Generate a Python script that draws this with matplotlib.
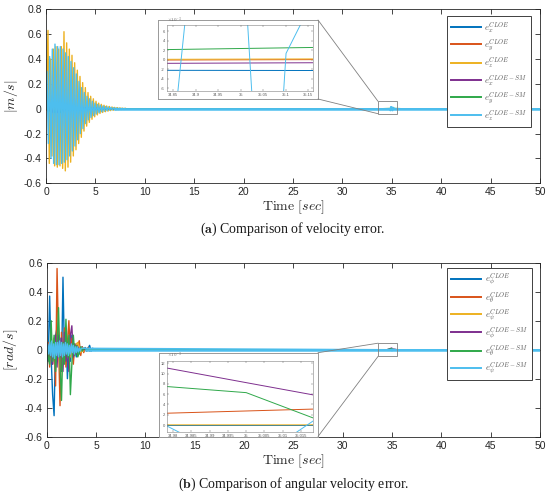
import numpy as np
import matplotlib
matplotlib.use("Agg")
import matplotlib.pyplot as plt
from matplotlib.patches import Rectangle, ConnectionPatch
from matplotlib.ticker import FuncFormatter

plt.rcParams['mathtext.fontset'] = 'cm'
plt.rcParams['axes.unicode_minus'] = False
plt.rcParams['font.family'] = ['Liberation Sans', 'DejaVu Sans']

# ---------------- colours / labels ----------------
colors = ['#0072BD', '#D95319', '#EDB120', '#7E2F8E', '#2FA84A', '#4DBEEE']
vel_labels = [r'$e_x^{CLOE}$', r'$e_y^{CLOE}$', r'$e_z^{CLOE}$',
              r'$e_x^{CLOE-SM}$', r'$e_y^{CLOE-SM}$', r'$e_z^{CLOE-SM}$']
ang_labels = [r'$e_\phi^{CLOE}$', r'$e_\theta^{CLOE}$', r'$e_\psi^{CLOE}$',
              r'$e_\phi^{CLOE-SM}$', r'$e_\theta^{CLOE-SM}$', r'$e_\psi^{CLOE-SM}$']

# ---------------- (a) velocity error data ----------------
vel_peak_step = 0.27
vel_z_cloe_pos = [0.63, 0.40, 0.48, 0.50, 0.48, 0.50, 0.62, 0.53, 0.48, 0.43, 0.37, 0.31,
                  0.26, 0.21, 0.17, 0.13, 0.10, 0.08, 0.06, 0.045, 0.035, 0.028, 0.022,
                  0.018, 0.014, 0.011, 0.009, 0.007, 0.005, 0.004]
vel_z_cloe_neg = [-0.44, -0.38, -0.46, -0.47, -0.46, -0.48, -0.50, -0.47, -0.43, -0.38,
                  -0.33, -0.28, -0.23, -0.18, -0.14, -0.11, -0.085, -0.065, -0.05, -0.038,
                  -0.03, -0.024, -0.019, -0.015, -0.012, -0.009, -0.007, -0.006, -0.005, -0.004]
vel_z_sm_pos = [0.30, 0.42, 0.48, 0.52, 0.50, 0.50, 0.48, 0.45, 0.42, 0.38, 0.33, 0.28,
                0.22, 0.17, 0.13, 0.10, 0.08, 0.06, 0.045, 0.035, 0.028, 0.022, 0.018,
                0.014, 0.011, 0.009, 0.007, 0.005, 0.004, 0.003]
vel_z_sm_neg = [-0.28, -0.40, -0.44, -0.45, -0.45, -0.44, -0.43, -0.41, -0.38, -0.34,
                -0.30, -0.25, -0.20, -0.16, -0.12, -0.09, -0.07, -0.055, -0.042, -0.032,
                -0.025, -0.02, -0.016, -0.012, -0.01, -0.008, -0.006, -0.005, -0.004, -0.003]
vel_small_t = [0.0, 0.3, 0.6, 0.9, 1.2, 1.5, 1.8, 2.1, 2.4, 2.7, 3.0, 3.3, 3.6, 3.9, 4.2,
               4.5, 4.8, 5.1, 5.4, 5.7, 6.0]
vel_x_cloe = [0, 0.03, -0.04, 0.05, -0.04, 0.04, -0.03, 0.03, -0.02, 0.02, -0.02, 0.015,
              -0.01, 0.01, -0.01, 0.008, -0.006, 0.005, -0.004, 0.003, 0]
vel_y_cloe = [0, -0.03, 0.04, -0.04, 0.05, -0.04, 0.03, -0.03, 0.02, -0.02, 0.015, -0.01,
              0.01, -0.01, 0.008, -0.006, 0.005, -0.004, 0.003, -0.002, 0]
vel_x_sm = [0, 0.02, -0.03, 0.04, -0.03, 0.03, -0.02, 0.02, -0.02, 0.015, -0.01, 0.01,
            -0.01, 0.008, -0.006, 0.005, -0.004, 0.003, -0.002, 0.002, 0]
vel_y_sm = [0, -0.02, 0.03, -0.03, 0.04, -0.03, 0.02, -0.02, 0.02, -0.015, 0.01, -0.01,
            0.008, -0.006, 0.005, -0.004, 0.003, -0.002, 0.002, -0.001, 0]
vel_tail_t = [34.0, 34.8, 35.2, 36.0]
vel_tail = {
    'x_cloe': [0, -2.25e-3, -2.3e-3, 0],
    'y_cloe': [0, -0.1e-3, 0.0, 0],
    'z_cloe': [0, 0.05e-3, 0.15e-3, 0],
    'x_sm':   [0, -0.8e-3, -0.65e-3, 0],
    'y_sm':   [0, 2.05e-3, 2.6e-3, 0],
}
vel_end_t = [50.0]
vel_end = [0.0]
vel_z_sm_tail_t = [34.0, 34.8, 34.85, 34.885, 35.01, 35.03, 35.06, 35.09, 35.101, 35.15, 35.3, 50.0]
vel_z_sm_tail = [0, 0, -0.016, 0.016, 0.016, -0.015, -0.012, -0.015, 0.0013, 0.0105, 0, 0]
vel_band_t = [7.0, 50.0]
vel_band = [0.0, 0.0]

# ---------------- (b) angular velocity error data ----------------
ang_t = [0.0, 0.15, 0.30, 0.45, 0.60, 0.75, 0.90, 1.05, 1.20, 1.35, 1.50, 1.65, 1.80, 1.95,
         2.10, 2.25, 2.40, 2.55, 2.70, 2.85, 3.00, 3.15, 3.30, 3.45, 3.60, 3.75, 3.90, 4.05,
         4.20, 4.35, 4.50, 4.65, 4.80, 4.95, 5.10, 5.25, 5.40, 5.55, 5.70, 5.85, 6.00]
ang_phi_cloe = [0, -0.08, 0.37, -0.05, -0.31, -0.455, 0.10, 0.15, -0.05, 0.08, -0.15, 0.50,
                -0.05, 0.12, -0.20, 0.05, -0.08, 0.10, -0.06, 0.03, -0.05, 0.02, -0.03, 0.01,
                0.02, -0.01, 0.015, -0.01, 0.01, 0.03, -0.01, 0.01, 0.005, -0.005, 0, 0, 0, 0, 0, 0, 0]
ang_theta_cloe = [0, 0.05, -0.12, 0.10, -0.10, 0.08, -0.25, 0.56, 0.05, -0.386, 0.12, -0.10,
                  0.15, -0.12, 0.05, 0.20, -0.05, 0.08, -0.10, 0.04, -0.02, 0.03, 0.062, -0.04,
                  0.02, -0.02, 0.01, -0.01, 0.015, -0.01, 0.005, 0, 0, 0, 0, 0, 0, 0, 0, 0, 0]
ang_psi_cloe = [0, 0.02, -0.03, 0.03, -0.02, 0.04, -0.03, 0.02, -0.04, 0.03, -0.02, 0.03,
                -0.03, 0.02, -0.02, 0.03, -0.05, 0.02, 0.03, -0.02, 0.04, 0.05, 0.02, -0.02,
                0.01, -0.01, 0.005, -0.005, 0.003, 0, 0, 0, 0, 0, 0, 0, 0, 0, 0, 0, 0]
ang_phi_sm = [0, 0.03, -0.05, 0.08, -0.10, 0.05, 0.10, -0.12, 0.10, -0.05, 0.08, -0.15,
              0.12, -0.08, 0.05, -0.15, 0.10, 0.165, -0.05, 0.04, -0.03, 0.02, -0.01, 0.01,
              0, 0, 0, 0, 0, 0, 0, 0, 0, 0, 0, 0, 0, 0, 0, 0, 0]
ang_theta_sm = [0, -0.05, -0.10, 0.20, -0.08, 0.10, -0.15, 0.05, 0.29, -0.10, -0.35, 0.05,
                -0.10, 0.21, -0.05, 0.10, -0.31, -0.10, 0.10, -0.04, 0.03, -0.05, -0.02, 0.02,
                -0.01, 0.01, 0.005, 0, 0, 0, 0, 0, 0, 0, 0, 0, 0, 0, 0, 0, 0]
ang_psi_sm_t = [0.0, 0.1, 0.2, 0.3, 0.4, 0.5, 0.6, 0.7, 0.8, 0.9, 1.0, 1.1, 1.2, 1.3, 1.4,
                1.5, 1.6, 1.7, 1.8, 1.9, 2.0, 2.1, 2.2, 2.3, 2.4, 2.5, 2.6, 2.7, 2.8, 2.9,
                3.0, 3.1, 3.2, 3.3, 3.4, 3.5]
ang_psi_sm = [0, 0.04, -0.03, 0.05, -0.04, 0.06, -0.05, 0.04, -0.06, 0.05, -0.04, 0.05,
              -0.05, 0.06, -0.04, 0.05, -0.05, 0.04, -0.04, 0.05, -0.03, 0.04, -0.04, 0.03,
              -0.03, 0.04, -0.02, 0.03, -0.03, 0.02, -0.02, 0.02, -0.015, 0.01, -0.01, 0.01]
ang_tail_t = [34.5, 34.975, 35.0, 35.025, 35.5, 50.0]
ang_tail = {
    'phi_cloe':   [0, 0.0, 0.0, 0.0, 0, 0],
    'theta_cloe': [0, 2.24e-3, 2.74e-3, 3.24e-3, 0, 0],
    'psi_cloe':   [0, 0.05e-3, 0.05e-3, 0.05e-3, 0, 0],
    'phi_sm':     [0, 11.5e-3, 8.24e-3, 5.0e-3, 0, 0],
    'theta_sm':   [0, 7.66e-3, 6.3e-3, -0.4e-3, 0, 0],
    'psi_sm':     [0, 1.0e-3, -8.0e-3, 4.0e-3, 0, 0],
}
ang_band_t = [4.0, 50.0]
ang_band = [0.0, 0.0]

# zoom windows
vel_zoom_box = (33.6, -0.04, 1.9, 0.10)
vel_inset_xlim = (34.836, 35.161)
vel_inset_ylim = (-6.6e-3, 7.2e-3)
ang_zoom_box = (33.6, -0.045, 1.9, 0.09)
ang_inset_xlim = (34.9783, 35.0183)
ang_inset_ylim = (-1.4e-3, 12.5e-3)


# ---------------- build series ----------------
def osc_series(pos, neg, t0):
    t, v = [0.0], [0.0]
    for k, (p, n) in enumerate(zip(pos, neg)):
        tp = t0 + vel_peak_step * k
        t += [tp, tp + vel_peak_step / 2]
        v += [p, n]
    return t, v

tz_c, vz_c = osc_series(vel_z_cloe_pos, vel_z_cloe_neg, 0.2)
tz_s, vz_s = osc_series(vel_z_sm_pos, vel_z_sm_neg, 0.1)
vt = vel_small_t + vel_tail_t + vel_end_t
vel_series = [
    (vt, vel_x_cloe + vel_tail['x_cloe'] + vel_end),
    (vt, vel_y_cloe + vel_tail['y_cloe'] + vel_end),
    (tz_c + vel_tail_t + vel_end_t, vz_c + vel_tail['z_cloe'] + vel_end),
    (vt, vel_x_sm + vel_tail['x_sm'] + vel_end),
    (vt, vel_y_sm + vel_tail['y_sm'] + vel_end),
    (tz_s + vel_z_sm_tail_t, vz_s + vel_z_sm_tail),
]
ang_series = [
    (ang_t + ang_tail_t, ang_phi_cloe + ang_tail['phi_cloe']),
    (ang_t + ang_tail_t, ang_theta_cloe + ang_tail['theta_cloe']),
    (ang_t + ang_tail_t, ang_psi_cloe + ang_tail['psi_cloe']),
    (ang_t + ang_tail_t, ang_phi_sm + ang_tail['phi_sm']),
    (ang_t + ang_tail_t, ang_theta_sm + ang_tail['theta_sm']),
    (ang_psi_sm_t + ang_tail_t, ang_psi_sm + ang_tail['psi_sm']),
]

W, H = 550, 498
fig = plt.figure(figsize=(W / 100, H / 100), dpi=100)


def rect(l, t, r, b):
    return [l / W, 1 - b / H, (r - l) / W, (b - t) / H]


def gfmt(scale=1.0):
    def f(v, p):
        s = round(v * scale, 6)
        if s == 0:
            return '0'
        return f'{s:g}'
    return FuncFormatter(f)


def style_main(ax, ylim, yticks, ylabel):
    ax.set_xlim(0, 50)
    ax.set_ylim(*ylim)
    ax.set_xticks(np.arange(0, 51, 5))
    ax.set_yticks(yticks)
    ax.yaxis.set_major_formatter(gfmt())
    ax.xaxis.set_major_formatter(gfmt())
    ax.tick_params(direction='in', length=3.5, width=0.6, top=True, right=True,
                   labelsize=7.5, colors='0.15', pad=3)
    for s in ax.spines.values():
        s.set_color('0.15')
        s.set_linewidth(0.6)
    ax.set_xlabel(r'$\mathrm{Time}\ [sec]$', fontsize=10, color='0.15', labelpad=1)
    ax.set_ylabel(ylabel, fontsize=10, color='0.15', labelpad=3)


def style_inset(ax, xlim, ylim, xticks, yticks, expo):
    ax.set_xlim(*xlim)
    ax.set_ylim(*ylim)
    ax.set_xticks(xticks)
    ax.set_yticks(yticks)
    ax.xaxis.set_major_formatter(gfmt())
    ax.yaxis.set_major_formatter(gfmt(1e3))
    ax.tick_params(direction='in', length=1.5, width=0.3, top=True, right=True,
                   labelsize=3, colors='0.35', pad=1.5)
    for s in ax.spines.values():
        s.set_color('0.5')
        s.set_linewidth(0.4)
    ax.text(0.0, 1.01, expo, transform=ax.transAxes, fontsize=3.5, color='0.4',
            ha='left', va='bottom')


def draw_panel(main_r, outer_r, inner_r, series, band_t, band, labels, ylim, yticks,
               ylabel, box, ixlim, iylim, ixticks, iyticks, leg_anchor, caption, cap_y):
    ax = fig.add_axes(rect(*main_r))
    for (t, v), c, lab in zip(series, colors, labels):
        ax.plot(t, v, color=c, lw=1.0, label=lab)
    ax.plot(band_t, band, color=colors[5], lw=1.8)
    style_main(ax, ylim, yticks, ylabel)
    leg = ax.legend(loc='upper right', bbox_to_anchor=leg_anchor, fontsize=6.5,
                    handlelength=3.3, handletextpad=0.4, labelspacing=0.28,
                    borderpad=0.45, borderaxespad=0, fancybox=False, framealpha=1,
                    edgecolor='0.25')
    leg.get_frame().set_linewidth(0.7)
    for ln in leg.get_lines():
        ln.set_linewidth(1.4)
    for tx in leg.get_texts():
        tx.set_color('0.35')
    bx = Rectangle(box[:2], box[2], box[3], fill=False, ec='0.5', lw=0.6, zorder=5)
    ax.add_patch(bx)

    outer = fig.add_axes(rect(*outer_r))
    outer.set_xticks([])
    outer.set_yticks([])
    for s in outer.spines.values():
        s.set_color('0.6')
        s.set_linewidth(0.7)
    ins = fig.add_axes(rect(*inner_r))
    for (t, v), c in zip(series, colors):
        ins.plot(t, v, color=c, lw=0.7)
    style_inset(ins, ixlim, iylim, ixticks, iyticks, r'$\times10^{-3}$')

    for (ua, ub) in [((1, 1), (box[0], box[1] + box[3])), ((1, 0), (box[0], box[1]))]:
        cp = ConnectionPatch(xyA=ua, coordsA=outer.transAxes, xyB=ub, coordsB=ax.transData,
                             color='0.5', lw=0.6)
        fig.add_artist(cp)

    cx = (main_r[0] + main_r[2]) / 2 / W
    fig.text(cx, 1 - cap_y / H, caption, ha='center', va='center', fontsize=10,
             family='Liberation Serif', color='0.1')
    return ax


draw_panel((46, 9.3, 540, 183.3), (158, 20, 318, 99), (167, 25.3, 313, 91),
           vel_series, vel_band_t, vel_band, vel_labels, (-0.6, 0.8),
           np.arange(-0.6, 0.81, 0.2), r'$|m/s|$', vel_zoom_box,
           vel_inset_xlim, vel_inset_ylim,
           [34.85, 34.9, 34.95, 35.0, 35.05, 35.1, 35.15],
           [-6e-3, -4e-3, -2e-3, 0, 2e-3, 4e-3, 6e-3],
           (0.982, 0.9615), r'($\mathbf{a}$) Comparison of velocity error.', 229)

draw_panel((46.7, 262.7, 540, 436.7), (159, 352.7, 318, 436.5), (167, 360.7, 313, 432.3),
           ang_series, ang_band_t, ang_band, ang_labels, (-0.6, 0.6),
           np.arange(-0.6, 0.61, 0.2), r'$[rad/s]$', ang_zoom_box,
           ang_inset_xlim, ang_inset_ylim,
           [34.98, 34.985, 34.99, 34.995, 35.0, 35.005, 35.01, 35.015],
           [0, 2e-3, 4e-3, 6e-3, 8e-3, 10e-3, 12e-3],
           (0.983, 0.97), r'($\mathbf{b}$) Comparison of angular velocity error.', 484)

fig.savefig('out.png', dpi=100)
